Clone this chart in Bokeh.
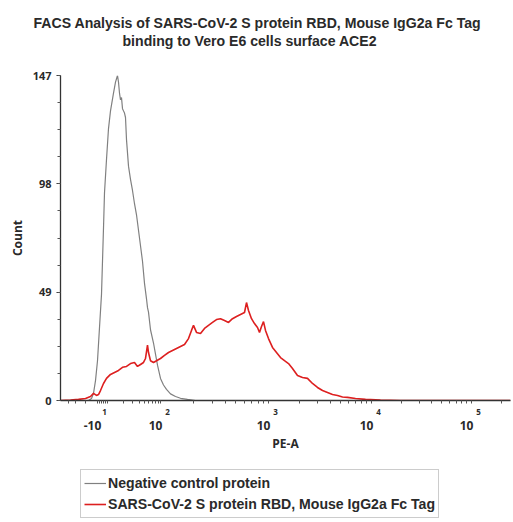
import math
from bokeh.plotting import figure
from bokeh.layouts import column
from bokeh.models import Range1d, LinearAxis, FixedTicker, Legend, LegendItem, Title
from bokeh.embed import file_html
from bokeh.resources import INLINE

# ---- data (x in display channels of the PE-A axis, y = count) ----
neg_x = [0, 20, 28, 31, 33, 35, 37, 39, 41, 42, 43, 44, 46, 48, 50, 53, 55, 57,
         58, 59, 60, 61, 62, 63, 64, 65, 66, 68, 70, 72, 74, 76, 78, 80, 82, 84,
         86, 87, 88, 90, 93, 95, 97, 100, 103, 106, 110, 115, 120, 127, 135, 450]
neg_y = [0, 0, 0, 0.9, 3.2, 9, 18, 33, 48, 63, 78, 94, 109, 123, 131, 139, 144, 147,
         144, 139, 136, 137, 132, 131, 130, 128, 118, 106, 100, 95, 89, 84, 77, 70, 63, 53,
         46, 42, 40, 32, 26, 21, 16, 10, 7, 5, 3, 1.8, 1.0, 0.5, 0, 0]

sars_x = [0, 10, 18, 25, 30, 33, 36, 38, 40, 43, 46, 50, 54, 58, 62, 66, 70, 74, 77,
          80, 83, 85, 87, 88, 90, 93, 96, 100, 104, 108, 112, 116, 120, 124, 128, 131,
          133, 136, 140, 144, 148, 152, 156, 160, 164, 168, 172, 176, 180, 184, 186,
          188, 191, 194, 197, 199, 201, 203, 205, 208, 212, 216, 220, 224, 228, 232,
          237, 242, 247, 252, 257, 262, 267, 272, 277, 282, 287, 295, 305, 320, 340, 450]
sars_y = [0, 0.2, 0.5, 0.9, 1.8, 3.2, 2.3, 2.7, 4.5, 7.7, 10, 11.8, 12.7, 13.6, 15, 15.4,
          16.7, 17.2, 15.4, 16.3, 17.2, 19, 25, 21.7, 18, 17.2, 18, 19, 20.4, 21.7, 22.6,
          23.5, 24.4, 25.3, 28, 31.7, 34, 30.8, 30.3, 32.6, 34, 35.3, 36.6, 37, 36.2, 35.3,
          37, 38, 38.9, 39.8, 44.3, 40.7, 37, 34.8, 33, 30.8, 33.5, 35.7, 31.7, 28, 24,
          21.7, 19.4, 18, 16.7, 14.5, 11.3, 10.4, 10, 7.7, 5.9, 4.5, 3.6, 2.7, 2.3, 1.6,
          1.4, 0.9, 0.5, 0.2, 0, 0]

x_tick_pos = [37, 100, 208, 311, 411]
x_tick_base = ["-10", "10", "10", "10", "10"]
x_tick_exp = ["1", "2", "3", "4", "5"]
y_ticks = [0, 49, 98, 147]

series_names = ["Negative control protein", "SARS-CoV-2 S protein RBD, Mouse IgG2a Fc Tag"]
series_colors = ["#808080", "#dd1f1f"]
series_widths = [1.2, 1.6]
title_lines = ["FACS Analysis of SARS-CoV-2 S protein RBD, Mouse IgG2a Fc Tag",
               "binding to Vero E6 cells surface ACE2"]

TXT = "#2a2a2a"
FONT = "Open Sans"
TFONT = "Liberation Sans"
W = 513


def bare(fig):
    fig.outline_line_color = None
    fig.xgrid.visible = False
    fig.ygrid.visible = False
    fig.min_border_left = 60
    fig.min_border_right = 3


# ---- title strip ----
p0 = figure(width=W, height=49, x_range=Range1d(0, 1), y_range=Range1d(0, 1),
            output_backend="svg", toolbar_location=None,
            x_axis_location=None, y_axis_location=None)
bare(p0)
p0.min_border_top = 48
p0.min_border_bottom = 0


def style_title(t):
    t.align = "left"
    t.text_font = TFONT
    t.text_font_size = "14.1px"
    t.text_font_style = "bold"
    t.text_color = TXT
    t.standoff = 0


p0.title.text = title_lines[0]
style_title(p0.title)
p0.title.offset = -27
t2 = Title(text=title_lines[1])
style_title(t2)
t2.offset = 62
p0.add_layout(t2, "above")

# ---- main histogram ----
p = figure(width=W, height=411, x_range=Range1d(0, 450), y_range=Range1d(0, 147),
           output_backend="svg", toolbar_location=None, x_axis_location=None)
bare(p)
p.min_border_top = 26
p.min_border_bottom = 60

for xs, ys, c, w in zip([neg_x, sars_x], [neg_y, sars_y], series_colors, series_widths):
    p.line(xs, ys, line_color=c, line_width=w)

ya = p.yaxis[0]
ya.ticker = FixedTicker(ticks=y_ticks, minor_ticks=[i * 12.25 for i in range(13)])
ya.axis_line_color = "#333333"
ya.axis_line_width = 1.3
ya.major_tick_line_color = "#333333"
ya.major_tick_out = 4
ya.major_tick_in = 0
ya.minor_tick_line_color = "#555555"
ya.minor_tick_out = 3
ya.minor_tick_in = 0
ya.major_label_text_font = FONT
ya.major_label_text_font_size = "11px"
ya.major_label_text_font_style = "bold"
ya.major_label_text_color = TXT
ya.major_label_standoff = 5
ya.axis_label = "Count"
ya.axis_label_text_font = FONT
ya.axis_label_text_font_size = "12px"
ya.axis_label_text_font_style = "bold"
ya.axis_label_text_color = TXT
ya.axis_label_standoff = 4

# x axis minor tick positions (log spacing within decades)
minor = [8, 15, 25, 37, 39, 41, 43, 45, 47]
minor += [47 + 53 * math.log10(m) for m in range(2, 10)]
for a, b in zip(x_tick_pos[1:-1], x_tick_pos[2:]):
    minor += [a + (b - a) * math.log10(m) for m in range(1, 10)]
minor += [411, 411 + 100 * math.log10(2)]

EXP_OFF = 7
BASE_OFF = -5

xa = LinearAxis()
xa.ticker = FixedTicker(ticks=[t + EXP_OFF for t in x_tick_pos], minor_ticks=minor)
xa.major_label_overrides = {t + EXP_OFF: e for t, e in zip(x_tick_pos, x_tick_exp)}
xa.axis_line_color = "#333333"
xa.axis_line_width = 1.3
xa.major_tick_line_color = None
xa.major_tick_out = 0
xa.major_tick_in = 0
xa.minor_tick_line_color = "#555555"
xa.minor_tick_out = 3
xa.minor_tick_in = 0
xa.major_label_text_font = FONT
xa.major_label_text_font_size = "8px"
xa.major_label_text_font_style = "bold"
xa.major_label_text_color = TXT
xa.major_label_standoff = 5
p.add_layout(xa, "below")

xb = LinearAxis()
xb.ticker = FixedTicker(ticks=[t + BASE_OFF for t in x_tick_pos], minor_ticks=[])
xb.major_label_overrides = {t + BASE_OFF: b for t, b in zip(x_tick_pos, x_tick_base)}
xb.axis_line_color = None
xb.major_tick_line_color = None
xb.minor_tick_line_color = None
xb.major_tick_out = 0
xb.major_tick_in = 0
xb.major_label_text_font = FONT
xb.major_label_text_font_size = "12px"
xb.major_label_text_font_style = "bold"
xb.major_label_text_color = TXT
xb.major_label_standoff = 3
xb.axis_label = "PE-A"
xb.axis_label_text_font = FONT
xb.axis_label_text_font_size = "12px"
xb.axis_label_text_font_style = "bold"
xb.axis_label_text_color = TXT
xb.axis_label_standoff = 2
p.add_layout(xb, "below")

# ---- legend strip (same series drawn out of view as legend glyph sources) ----
p2 = figure(width=W, height=62, x_range=Range1d(-2, -1), y_range=Range1d(-2, -1),
            output_backend="svg", toolbar_location=None,
            x_axis_location=None, y_axis_location=None)
bare(p2)
p2.min_border_top = 0
p2.min_border_bottom = 0
proxies = [p2.line(xs, ys, line_color=c, line_width=w)
           for xs, ys, c, w in zip([neg_x, sars_x], [neg_y, sars_y], series_colors, series_widths)]
legend = Legend(items=[LegendItem(label=n, renderers=[r]) for n, r in zip(series_names, proxies)],
                location=(20, 4), orientation="vertical")
legend.margin = 0
legend.padding = 3
legend.spacing = 1
legend.label_height = 20
legend.glyph_height = 20
legend.glyph_width = 22
legend.label_standoff = 2
legend.label_text_font = TFONT
legend.label_text_font_size = "14.1px"
legend.label_text_font_style = "bold"
legend.label_text_color = TXT
legend.border_line_color = "#9a9a9a"
legend.border_line_width = 1
legend.background_fill_color = "white"
p2.add_layout(legend, "center")

open("out.html", "w").write(file_html(column(p0, p, p2), INLINE))
